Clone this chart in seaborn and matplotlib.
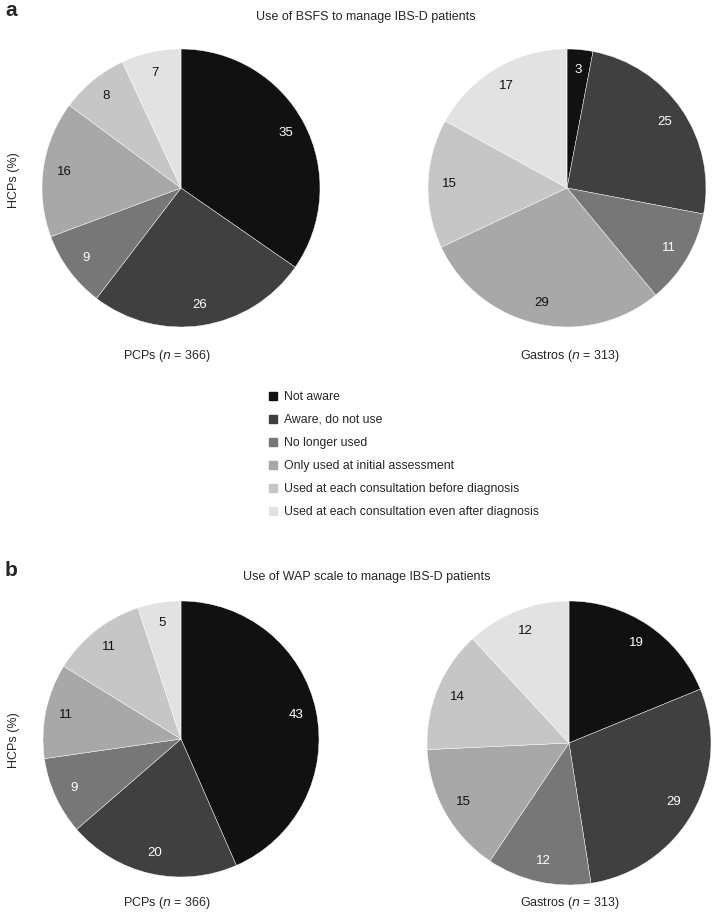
import numpy as np
import matplotlib
matplotlib.use("Agg")
import matplotlib.pyplot as plt
import seaborn as sns

categories = ["Not aware", "Aware, do not use", "No longer used",
              "Only used at initial assessment",
              "Used at each consultation before diagnosis",
              "Used at each consultation even after diagnosis"]

bsfs_pcps = [35, 26, 9, 16, 8, 7]
bsfs_gastros = [3, 25, 11, 29, 15, 17]
wap_pcps = [43, 20, 9, 11, 11, 5]
wap_gastros = [19, 29, 12, 15, 14, 12]

grays = ["#111111", "#404040", "#777777", "#a8a8a8", "#c6c6c6", "#e2e2e2"]
text_cols = ["white", "white", "white", "#111111", "#111111", "#111111"]

sns.set_theme(style="white")
plt.rcParams['font.family'] = ['Liberation Sans', 'DejaVu Sans']

W, H = 712, 917
fig = plt.figure(figsize=(W / 100, H / 100), dpi=100)


def pie_axes(cx, cy, r):
    ax = fig.add_axes([(cx - r) / W, 1 - (cy + r) / H, 2 * r / W, 2 * r / H])
    return ax


def draw_pie(ax, vals):
    wedges, _ = ax.pie(vals, colors=sns.color_palette(grays), startangle=90,
                       counterclock=False, radius=1,
                       wedgeprops=dict(edgecolor="white", linewidth=0.3))
    for w, v, tc in zip(wedges, vals, text_cols):
        ang = np.deg2rad((w.theta1 + w.theta2) / 2)
        ax.text(0.85 * np.cos(ang), 0.85 * np.sin(ang), str(v), color=tc,
                ha="center", va="center", fontsize=9.5)
    ax.set_xlim(-1, 1)
    ax.set_ylim(-1, 1)
    ax.axis("off")


# panel a
draw_pie(pie_axes(181, 188, 139), bsfs_pcps)
draw_pie(pie_axes(567, 188, 139), bsfs_gastros)
# panel b
draw_pie(pie_axes(181, 739, 138), wap_pcps)
draw_pie(pie_axes(569, 743, 142), wap_gastros)

fig.text(5 / W, 1 - 10 / H, "a", fontsize=15, fontweight="bold", va="center")
fig.text(5 / W, 1 - 570 / H, "b", fontsize=15, fontweight="bold", va="center")

fig.text(366 / W, 1 - 17 / H, "Use of BSFS to manage IBS-D patients",
         fontsize=9, ha="center", va="center")
fig.text(367 / W, 1 - 577 / H, "Use of WAP scale to manage IBS-D patients",
         fontsize=9, ha="center", va="center")

for y in (180, 740):
    fig.text(14 / W, 1 - y / H, "HCPs (%)", rotation=90, fontsize=9,
             ha="center", va="center")

for y in (356, 903):
    fig.text(167 / W, 1 - y / H, "PCPs ($n$ = 366)", fontsize=9,
             ha="center", va="center")
    fig.text(570 / W, 1 - y / H, "Gastros ($n$ = 313)", fontsize=9,
             ha="center", va="center")

# legend
handles = [plt.Line2D([], [], marker="s", linestyle="", markersize=6,
                      markerfacecolor=c, markeredgecolor=c) for c in grays]
fig.legend(handles, categories, loc="upper left",
           bbox_to_anchor=(255 / W, 1 - 380 / H), frameon=False,
           fontsize=8.8, handletextpad=0.3, labelspacing=0.9,
           handlelength=1.2)

fig.savefig("out.png", dpi=100)
